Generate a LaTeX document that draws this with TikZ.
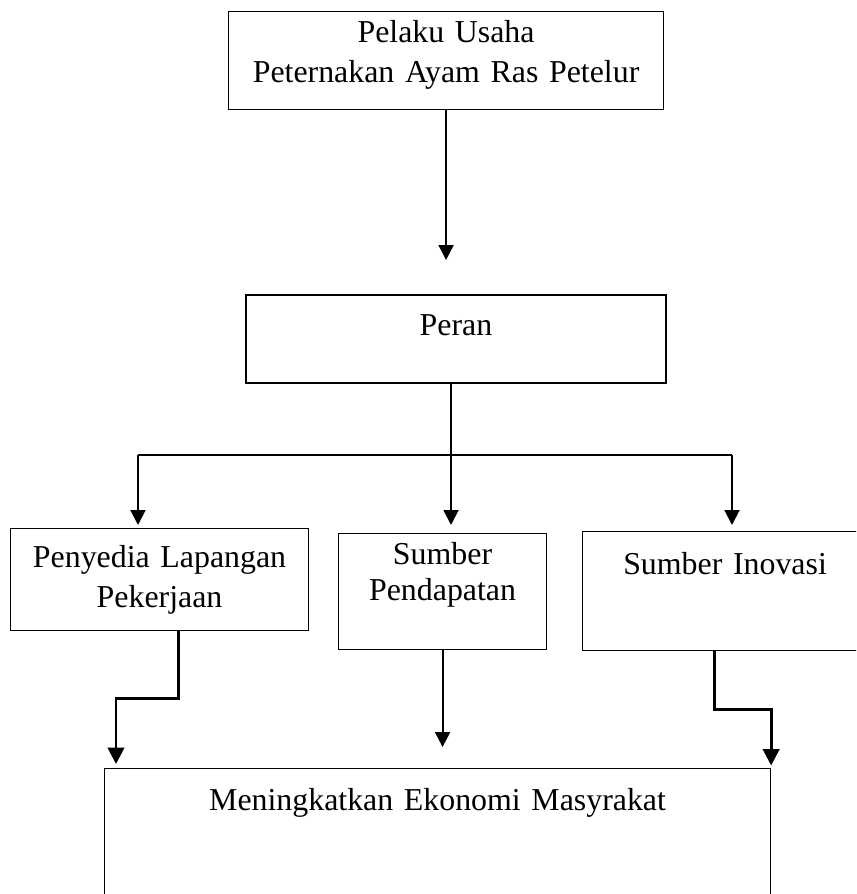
\documentclass[tikz,border=0pt]{standalone}
\usepackage{fontspec}
\setmainfont{Liberation Serif}
\usepackage{tikz}
\usetikzlibrary{arrows.meta, positioning, calc}

\begin{document}
\begin{tikzpicture}[
    x=0.4pt, y=-0.4pt,
    kotak/.style={
        rectangle, draw=black, line width=0.45pt, anchor=north west,
        inner sep=0pt, align=center,
        font=\fontsize{12.75}{16}\selectfont
    },
    garis/.style={line width=0.75pt},
    panah/.style={-{Triangle[length=6pt, width=6pt]}, line width=0.75pt},
    panahtebal/.style={-{Triangle[length=6.6pt, width=6.6pt]}, line width=1.15pt}
]
\useasboundingbox (0,0) rectangle (856,894);
\clip (0,0) rectangle (856,894);

% Kotak-kotak
\node[kotak, text width=174pt, text height=12.4pt, text depth=26.8pt]
    (atas) at (228,11) {Pelaku Usaha\\Peternakan Ayam Ras Petelur};
\node[kotak, line width=0.8pt, text width=168pt, text height=16pt, text depth=19.2pt]
    (peran) at (245,294) {Peran};
\node[kotak, text width=119.2pt, text height=15.6pt, text depth=25.2pt]
    (penyedia) at (10,528) {Penyedia Lapangan\\Pekerjaan};
\node[kotak, font=\fontsize{12.75}{14.4}\selectfont,
      text width=83.2pt, text height=12.4pt, text depth=34pt]
    (pendapatan) at (338,533) {Sumber\\Pendapatan};
\node[kotak, text width=114pt, text height=17.2pt, text depth=30.4pt]
    (inovasi) at (582,531) {Sumber Inovasi};
\node[kotak, text width=266.4pt, text height=16.8pt, text depth=50pt]
    (ekonomi) at (104,768) {Meningkatkan Ekonomi Masyrakat};

% Titik cabang
\coordinate (cabkiri) at (138,455);
\coordinate (cabtengah) at (451,455);
\coordinate (cabkanan) at (732,455);

% Panah ke bawah
\draw[panah, shorten >=13.6pt] (atas.south) -- (atas.south |- peran.north);
\draw[garis] (cabkiri) -- (cabkanan);
\draw[panah, shorten >=3.2pt] (peran.south -| cabtengah) -- (cabtengah |- pendapatan.north);
\draw[panah, shorten >=1.2pt] (cabkiri) -- (cabkiri |- penyedia.north);
\draw[panah, shorten >=2.4pt] (cabkanan) -- (cabkanan |- inovasi.north);

% Ke kotak paling bawah
\draw[panahtebal, shorten >=1.6pt] ([xshift=7.6pt]penyedia.south) -- ++(0,-26.8pt)
    -| ([xshift=4.8pt]ekonomi.north west);
\draw[panah, line width=0.85pt, shorten >=8.4pt] (pendapatan.south) -- (pendapatan.south |- ekonomi.north);
\draw[panahtebal, shorten >=1pt] ([xshift=-4.2pt]inovasi.south) -- ++(0,-23.2pt)
    -| (ekonomi.north east);

\end{tikzpicture}
\end{document}
